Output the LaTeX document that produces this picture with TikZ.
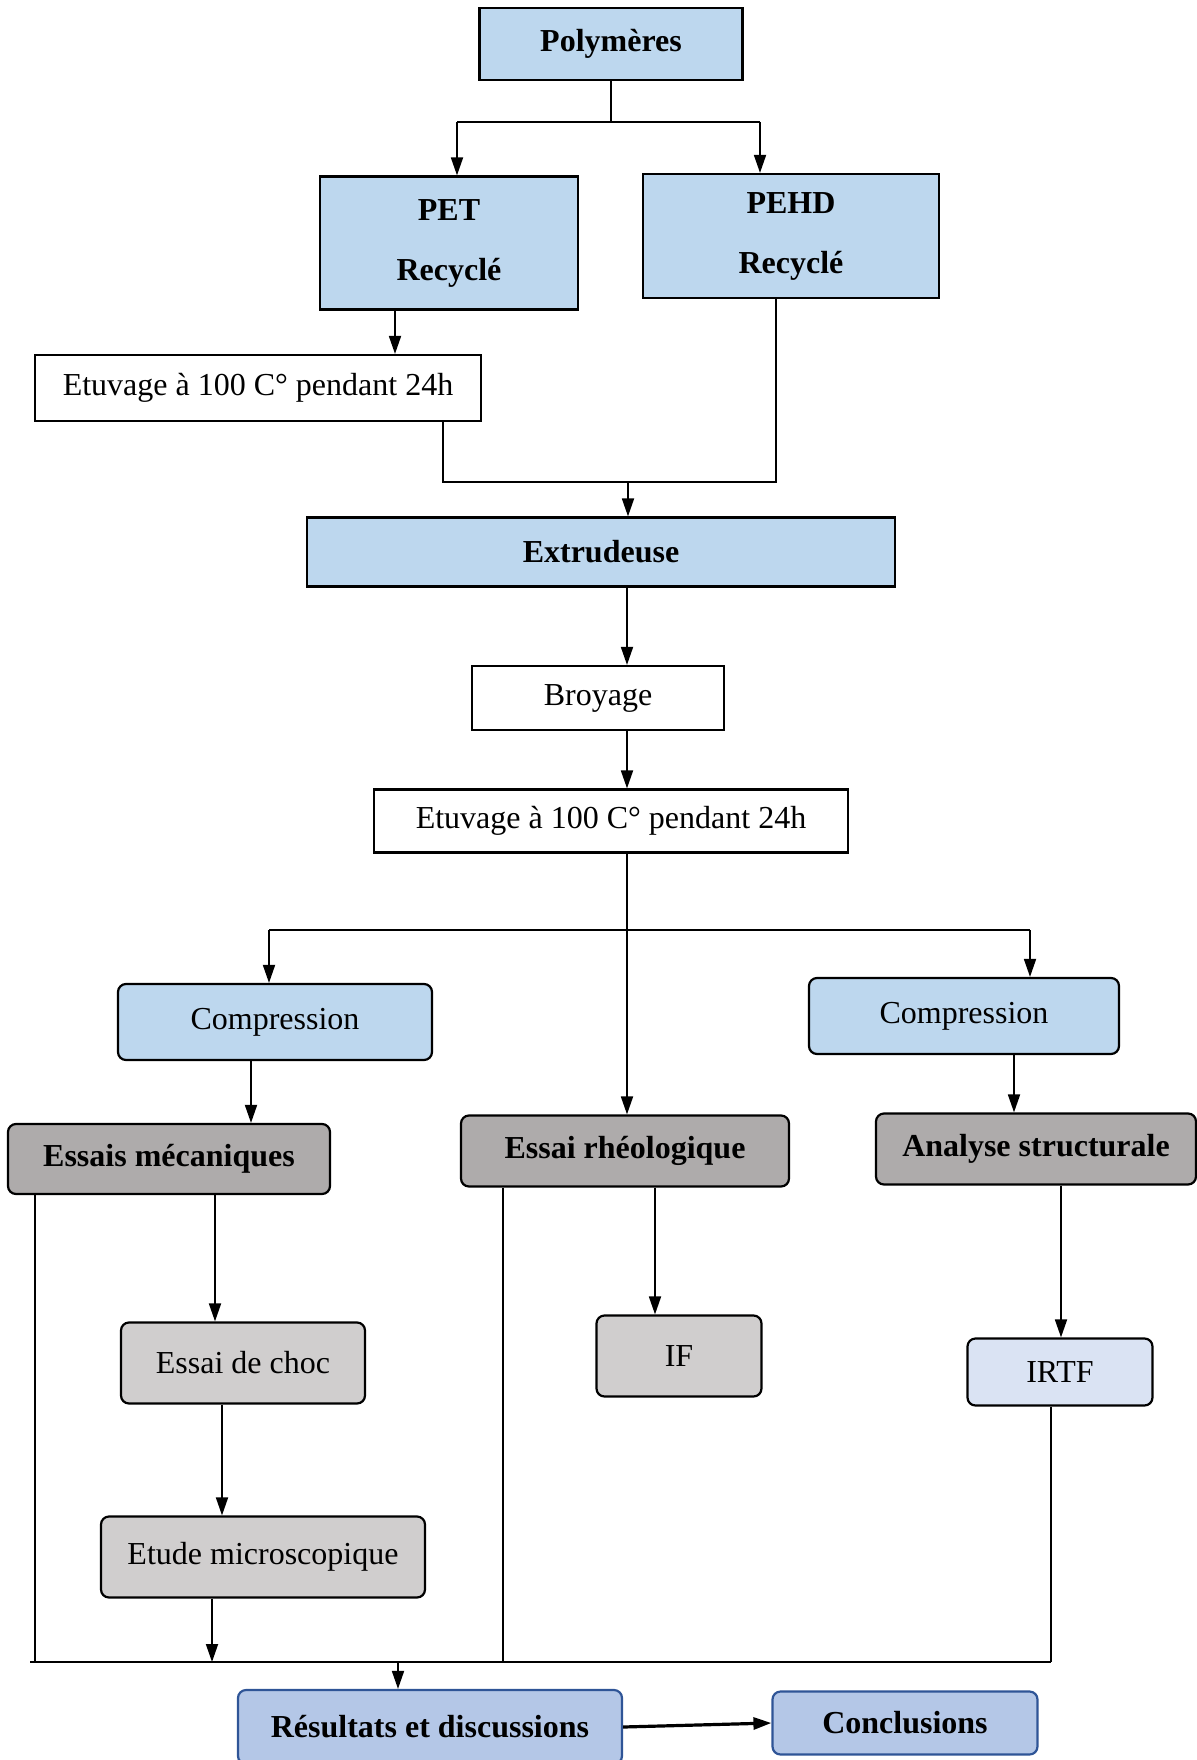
\documentclass[tikz,border=0pt]{standalone}
\usepackage{fontspec}
\setmainfont{Liberation Serif}
\usetikzlibrary{arrows.meta,positioning}

\definecolor{bleuclair}{HTML}{BDD7EE}
\definecolor{grisfonce}{HTML}{AEABAB}
\definecolor{grisclair}{HTML}{D0CECE}
\definecolor{lavande}{HTML}{DAE3F3}
\definecolor{bleures}{HTML}{B4C7E7}
\definecolor{bordres}{HTML}{2F5597}

\tikzset{
  texte/.style={font=\fontsize{16}{19}\selectfont},
  gras/.style={font=\fontsize{16}{19}\selectfont\bfseries},
  carre/.style={draw, line width=1.1pt, inner sep=0pt, texte},
  bleu/.style={carre, fill=bleuclair, gras},
  arrondi/.style={draw, line width=1.1pt, rounded corners=4pt, inner sep=0pt, texte},
  lien/.style={line width=0.9pt},
  trait/.style={line width=0.6pt}
}

\begin{document}
\begin{tikzpicture}[x=0.5pt, y=-0.5pt, >={Triangle[length=9pt,width=6pt]}]
    \useasboundingbox (0,0) rectangle (1196,1760);

    \node (poly) [bleu, minimum width=131.5pt, minimum height=36pt] at (611,44) {Polymères};
    \node (pet) [bleu, align=center, minimum width=129pt, minimum height=66.5pt] at (449,243) {PET\\[11pt]Recyclé};
    \node (pehd) [bleu, align=center, minimum width=148pt, minimum height=62pt] at (791,236) {PEHD\\[11pt]Recyclé};
    \node (etuv1) [carre, minimum width=223pt, minimum height=33pt] at (258,388) {Etuvage à 100 C° pendant 24h};
    \node (extr) [bleu, minimum width=294pt, minimum height=34.5pt] at (601,552) {Extrudeuse};
    \node (broy) [carre, minimum width=126pt, minimum height=32pt] at (598,698) {Broyage};
    \node (etuv2) [carre, minimum width=237pt, minimum height=31.5pt] at (611,821) {Etuvage à 100 C° pendant 24h};

    \node (comp1) [arrondi, fill=bleuclair, minimum width=157pt, minimum height=38pt] at (275,1022) {Compression};
    \node (comp2) [arrondi, fill=bleuclair, minimum width=155pt, minimum height=38pt] at (964,1016) {Compression};
    \node (meca) [arrondi, fill=grisfonce, gras, minimum width=161pt, minimum height=35pt] at (169,1159) {Essais mécaniques};
    \node (rheo) [arrondi, fill=grisfonce, gras, minimum width=164pt, minimum height=35.5pt] at (625,1151) {Essai rhéologique};
    \node (anal) [arrondi, fill=grisfonce, gras, minimum width=160pt, minimum height=35.5pt] at (1036,1149) {Analyse structurale};
    \node (choc) [arrondi, fill=grisclair, minimum width=122pt, minimum height=40.5pt] at (243,1363) {Essai de choc};
    \node (etude) [arrondi, fill=grisclair, minimum width=162pt, minimum height=40.5pt] at (263,1557) {Etude microscopique};
    \node (if) [arrondi, fill=grisclair, minimum width=82.5pt, minimum height=40.5pt] at (679,1356) {IF};
    \node (irtf) [arrondi, fill=lavande, minimum width=92.5pt, minimum height=33.5pt] at (1060,1372) {IRTF};

    \node (res) [arrondi, draw=bordres, fill=bleures, gras, minimum width=192pt, minimum height=37pt] at (430,1727) {Résultats et discussions};
    \node (concl) [arrondi, draw=bordres, fill=bleures, gras, minimum width=132.5pt, minimum height=31.5pt] at (905,1723) {Conclusions};

    % points de jonction
    \coordinate (tl) at (457,122);
    \coordinate (tr) at (760,122);
    \coordinate (a1) at ([xshift=-27pt]pet.south);
    \coordinate (m1) at (443,482);
    \coordinate (m2) at (776,482);
    \coordinate (m3) at (628,482);
    \coordinate (axe) at (627,620);
    \coordinate (s0) at (627,930);
    \coordinate (s1) at (269,930);
    \coordinate (s2) at (1030,930);
    \coordinate (b1) at (251,1090);
    \coordinate (b2) at (1014,1090);
    \coordinate (b3) at (215,1250);
    \coordinate (b4) at (222,1450);
    \coordinate (b5) at (655,1250);
    \coordinate (b6) at (1061,1250);
    \coordinate (f0) at (30,1662);
    \coordinate (f1) at (35,1662);
    \coordinate (f2) at (1051,1662);
    \coordinate (f3) at (503,1662);
    \coordinate (f4) at (212,1662);
    \coordinate (f5) at (398,1662);

    \draw[trait] (poly) -- (poly |- tl);
    \draw[trait] (tl) -- (tr);
    \draw[lien,->] (tl) -- (tl |- pet.north);
    \draw[lien,->] (tr) -- (tr |- pehd.north);
    \draw[lien,->] (a1) -- (a1 |- etuv1.north);

    \draw[trait] (etuv1.south -| m1) -- (m1) -- (m2) -- (pehd.south -| m2);
    \draw[lien,->] (m3) -- (m3 |- extr.north);
    \draw[lien,->] (extr.south -| axe) -- (broy.north -| axe);
    \draw[lien,->] (broy.south -| axe) -- (etuv2.north -| axe);

    \draw[lien] (etuv2.south -| s0) -- (s0);
    \draw[trait] (s1) -- (s2);
    \draw[lien,->] (s1) -- (s1 |- comp1.north);
    \draw[lien,->] (s2) -- (s2 |- comp2.north);
    \draw[lien,->] (s0) -- (s0 |- rheo.north);

    \draw[lien,->] (comp1.south -| b1) -- (meca.north -| b1);
    \draw[lien,->] (comp2.south -| b2) -- (anal.north -| b2);
    \draw[lien,->] (meca.south -| b3) -- (choc.north -| b3);
    \draw[lien,->] (choc.south -| b4) -- (etude.north -| b4);
    \draw[lien,->] (rheo.south -| b5) -- (if.north -| b5);
    \draw[lien,->] (anal.south -| b6) -- (irtf.north -| b6);

    \draw[trait] (meca.south -| f1) -- (f1);
    \draw[trait] (rheo.south -| f3) -- (f3);
    \draw[trait] (irtf.south -| f2) -- (f2);
    \draw[lien] (f0) -- (f2);
    \draw[lien,->] (etude.south -| f4) -- (f4);
    \draw[lien,->] (f5) -- (f5 |- res.north);
    \draw[->, line width=1.6pt] (res.east) -- (concl.west);
\end{tikzpicture}
\end{document}
